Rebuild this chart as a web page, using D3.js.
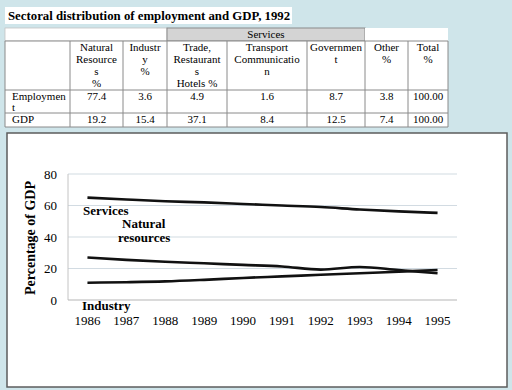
<!DOCTYPE html>
<html>
<head>
<meta charset="utf-8">
<script src="https://cdn.jsdelivr.net/npm/d3@7"></script>
<style>
  body { margin: 0; background: #cfe5ea; }
  svg { display: block; font-family: "Liberation Serif", "Times New Roman", serif; }
</style>
</head>
<body>
<div id="wrap"></div>
<script>
// table data
const tableTitle = "Sectoral distribution of employment and GDP, 1992";
const groupLabel = "Services";
const colHeads = [
  [],
  ["Natural", "Resource", "s", "%"],
  ["Industr", "y", "%"],
  ["Trade,", "Restaurant", "s", "Hotels %"],
  ["Transport", "Communicatio", "n"],
  ["Governmen", "t"],
  ["Other", "%"],
  ["Total", "%"]
];
const rowHeads = [["Employmen", "t"], ["GDP"]];
const employment = ["77.4", "3.6", "4.9", "1.6", "8.7", "3.8", "100.00"];
const gdp = ["19.2", "15.4", "37.1", "8.4", "12.5", "7.4", "100.00"];

// chart data
const years = ["1986", "1987", "1988", "1989", "1990", "1991", "1992", "1993", "1994", "1995"];
const services = [65, 63.8, 62.7, 62, 61, 60, 59, 57.5, 56.3, 55.3];
const naturalResources = [27, 25.5, 24.3, 23.3, 22.3, 21.3, 19.3, 21, 19, 17];
const industry = [11, 11.3, 11.8, 12.8, 14, 15, 16, 17, 18, 19];
const yTicks = [0, 20, 40, 60, 80];

const W = 512, H = 390;
const svg = d3.select("#wrap").append("svg").attr("width", W).attr("height", H);

// ---- title ----
svg.append("rect").attr("x", 5).attr("y", 7).attr("width", 287).attr("height", 17).attr("fill", "#fff");
svg.append("text").attr("x", 8).attr("y", 20)
  .attr("font-size", 12.8).attr("font-weight", "bold").attr("fill", "#000")
  .text(tableTitle);

// ---- table ----
const colX = [5, 70, 123, 167, 227, 307, 365, 408, 448];
const rowY = [28, 41, 90, 113, 127];
const tfs = 11, lh = 12;
const line = "#8a8a8a";

const t = svg.append("g");
// top row
t.append("rect").attr("x", colX[0]).attr("y", rowY[0]).attr("width", colX[3] - colX[0]).attr("height", rowY[1] - rowY[0])
  .attr("fill", "#fff").attr("stroke", "#c4c4c4").attr("stroke-width", 0.8);
t.append("rect").attr("x", colX[3]).attr("y", rowY[0]).attr("width", colX[6] - colX[3]).attr("height", rowY[1] - rowY[0])
  .attr("fill", "#d4d4d4").attr("stroke", line).attr("stroke-width", 1);
t.append("rect").attr("x", colX[6]).attr("y", rowY[0]).attr("width", colX[8] - colX[6]).attr("height", rowY[1] - rowY[0])
  .attr("fill", "#fff");
t.append("text").attr("x", (colX[3] + colX[6]) / 2).attr("y", rowY[0] + 10).attr("text-anchor", "middle")
  .attr("font-size", tfs).text(groupLabel);

// body cells
t.append("rect").attr("x", colX[0]).attr("y", rowY[1]).attr("width", colX[8] - colX[0]).attr("height", rowY[4] - rowY[1])
  .attr("fill", "#fff");
colX.forEach(x => {
  t.append("line").attr("x1", x).attr("x2", x).attr("y1", rowY[1]).attr("y2", rowY[4]).attr("stroke", line);
});
rowY.slice(1).forEach(y => {
  t.append("line").attr("x1", colX[0]).attr("x2", colX[8]).attr("y1", y).attr("y2", y).attr("stroke", line);
});

colHeads.forEach((lines, i) => {
  const cx = (colX[i] + colX[i + 1]) / 2;
  lines.forEach((s, j) => {
    t.append("text").attr("x", cx).attr("y", rowY[1] + 10 + j * lh).attr("text-anchor", "middle")
      .attr("font-size", tfs).text(s);
  });
});

[employment, gdp].forEach((vals, r) => {
  const y0 = rowY[2 + r];
  rowHeads[r].forEach((s, j) => {
    t.append("text").attr("x", colX[0] + 7).attr("y", y0 + 10 + j * 11).attr("font-size", tfs).text(s);
  });
  vals.forEach((v, i) => {
    t.append("text").attr("x", (colX[i + 1] + colX[i + 2]) / 2).attr("y", y0 + 10)
      .attr("text-anchor", "middle").attr("font-size", tfs).text(v);
  });
});

// ---- chart box ----
svg.append("rect").attr("x", 7).attr("y", 133).attr("width", 500).attr("height", 254)
  .attr("fill", "#fff").attr("stroke", "#5c5c5c").attr("stroke-width", 1.5);

const x = d3.scaleBand().domain(years).range([68, 457]);
const y = d3.scaleLinear().domain([0, 80]).range([300, 174]);

const g = svg.append("g");
// gridlines
g.selectAll(".grid").data(yTicks.filter(d => d > 0)).join("line")
  .attr("x1", 68).attr("x2", 457).attr("y1", d => y(d)).attr("y2", d => y(d))
  .attr("stroke", "#d2dbe2").attr("stroke-width", 1.2);
// axes lines
g.append("line").attr("x1", 68).attr("x2", 68).attr("y1", y(80)).attr("y2", y(0)).attr("stroke", "#c4c4c4");
g.append("line").attr("x1", 68).attr("x2", 457).attr("y1", y(0)).attr("y2", y(0)).attr("stroke", "#b5b5b5").attr("stroke-width", 1.2);

// y labels
g.selectAll(".yl").data(yTicks).join("text")
  .attr("x", 57).attr("y", d => y(d)).attr("dy", "0.35em").attr("text-anchor", "end")
  .attr("font-size", 13).text(d => d);
// x labels
g.selectAll(".xl").data(years).join("text")
  .attr("x", d => x(d) + x.bandwidth() / 2).attr("y", 325).attr("text-anchor", "middle")
  .attr("font-size", 13).text(d => d);

// y title
g.append("text").attr("transform", `translate(35,${(y(0) + y(80)) / 2 + 1}) rotate(-90)`)
  .attr("text-anchor", "middle").attr("font-size", 14).attr("font-weight", "bold")
  .text("Percentage of GDP");

// lines
const lineGen = d3.line()
  .x((d, i) => x(years[i]) + x.bandwidth() / 2)
  .y(d => y(d))
  .curve(d3.curveMonotoneX);
[services, naturalResources, industry].forEach(s => {
  g.append("path").attr("d", lineGen(s)).attr("fill", "none").attr("stroke", "#111").attr("stroke-width", 2.6);
});

// series labels
const lab = (txt, lx, ly) => g.append("text").attr("x", lx).attr("y", ly)
  .attr("font-size", 13).attr("font-weight", "bold").text(txt);
lab("Services", 83, 215);
lab("Natural", 122, 228);
lab("resources", 118, 242);
lab("Industry", 82, 310);
</script>
</body>
</html>
